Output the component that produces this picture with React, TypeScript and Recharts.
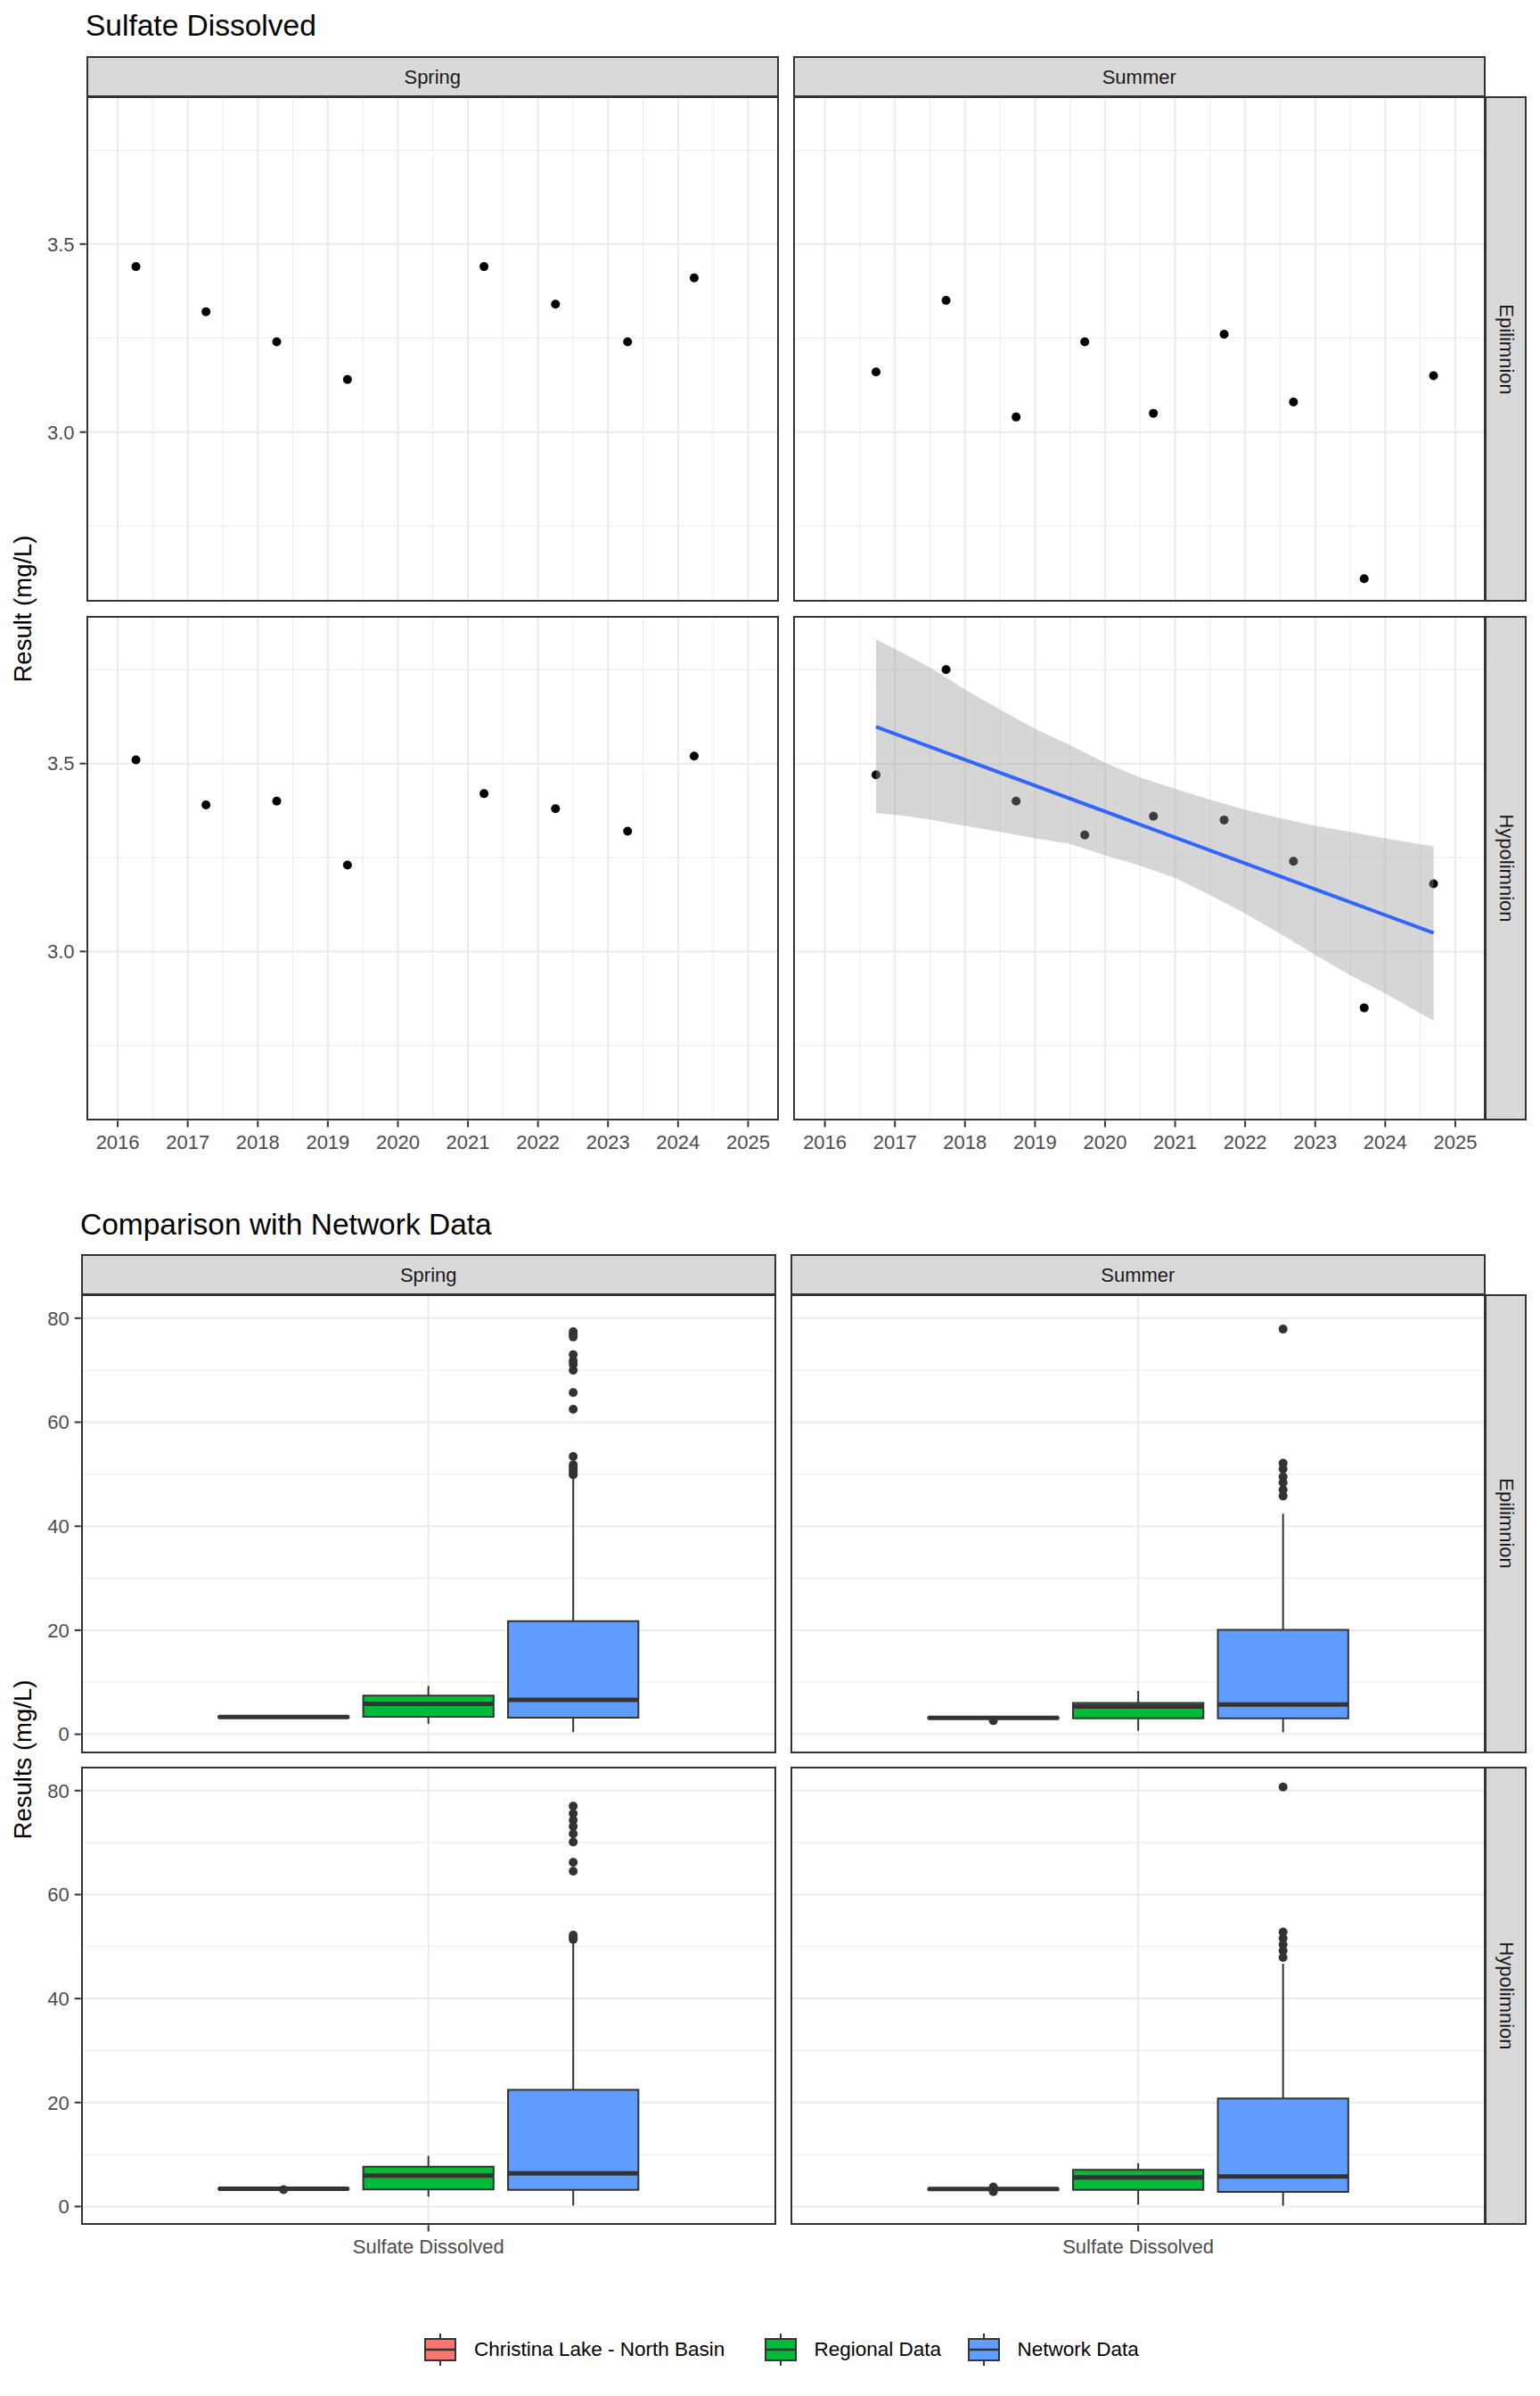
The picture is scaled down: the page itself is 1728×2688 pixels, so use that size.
import React from 'react';
import {
  ComposedChart, Scatter, Line, Area, XAxis, YAxis, CartesianGrid,
  ReferenceArea, ReferenceLine,
} from 'recharts';

const FONT = '"Liberation Sans", Arial, Helvetica, sans-serif';
const INK = '#333333';
const GRID = '#EBEBEB';
const TICK = { fontSize: 22, fill: '#4D4D4D', fontFamily: FONT };

// ---------- top block: Sulfate Dissolved over time ----------
const SEASONS = ['Spring', 'Summer'];
const LAYERS = ['Epilimnion', 'Hypolimnion'];
const YEAR_TICKS = [2016, 2017, 2018, 2019, 2020, 2021, 2022, 2023, 2024, 2025];
const YEAR_MINOR = [2016.5, 2017.5, 2018.5, 2019.5, 2020.5, 2021.5, 2022.5, 2023.5, 2024.5];
const RESULT_TICKS = [3.0, 3.5];
const RESULT_MINOR = [2.75, 3.25, 3.75];

const springYears = [2016.26, 2017.26, 2018.27, 2019.28, 2021.23, 2022.25, 2023.28, 2024.23];
const springEpi = [3.44, 3.32, 3.24, 3.14, 3.44, 3.34, 3.24, 3.41];
const springHypo = [3.51, 3.39, 3.40, 3.23, 3.42, 3.38, 3.32, 3.52];

const summerYears = [2016.73, 2017.73, 2018.73, 2019.71, 2020.69, 2021.70, 2022.69, 2023.70, 2024.69];
const summerEpi = [3.16, 3.35, 3.04, 3.24, 3.05, 3.26, 3.08, 2.61, 3.15];
const summerHypo = [3.47, 3.75, 3.40, 3.31, 3.36, 3.35, 3.24, 2.85, 3.18];

// lm fit + confidence band (summer hypolimnion)
const trendYears = [2016.73, 2024.69];
const trendFit = [3.598, 3.049];
const bandYears = [2016.73, 2017, 2017.5, 2018, 2018.5, 2019, 2019.5, 2020, 2020.5, 2021, 2021.5, 2022, 2022.5, 2023, 2023.5, 2024, 2024.69];
const bandHigh = [3.831, 3.805, 3.756, 3.697, 3.644, 3.592, 3.549, 3.502, 3.463, 3.433, 3.404, 3.377, 3.355, 3.334, 3.318, 3.301, 3.280];
const bandLow = [3.368, 3.364, 3.351, 3.334, 3.318, 3.301, 3.286, 3.256, 3.228, 3.196, 3.150, 3.101, 3.047, 2.991, 2.937, 2.888, 2.816];

// ---------- bottom block: comparison boxplots ----------
const PARAMS = ['Sulfate Dissolved'];
const PARAM_POS = [1];
const GROUPS = ['Christina Lake - North Basin', 'Regional Data', 'Network Data'];
const GROUP_FILLS = ['#F8766D', '#00BA38', '#619CFF'];
const GROUP_POS = [0.75, 1, 1.25];
const COMP_TICKS = [0, 20, 40, 60, 80];
const COMP_MINOR = [10, 30, 50, 70];

// [lower whisker, Q1, median, Q3, upper whisker]
const springEpiChristina = [3.14, 3.24, 3.33, 3.42, 3.44];
const springEpiRegional = [2.0, 3.34, 5.86, 7.43, 9.28];
const springEpiNetwork = [0.4, 3.19, 6.61, 21.76, 49.4];
const springEpiOutliers = [[], [], [77.4, 76.9, 76.4, 73.0, 71.8, 71.1, 70.0, 65.7, 62.5, 53.4, 51.8, 51.3, 50.8, 50.3, 49.9]];

const summerEpiChristina = [3.04, 3.05, 3.15, 3.24, 3.35];
const summerEpiRegional = [0.67, 3.05, 5.35, 6.01, 8.32];
const summerEpiNetwork = [0.38, 3.05, 5.72, 20.06, 42.4];
const summerEpiOutliers = [[2.61], [], [77.9, 52.1, 51.0, 49.5, 48.4, 47.0, 45.8]];

const springHypoChristina = [3.32, 3.365, 3.395, 3.44, 3.52];
const springHypoRegional = [1.89, 3.30, 5.94, 7.66, 9.74];
const springHypoNetwork = [0.17, 3.18, 6.37, 22.45, 50.8];
const springHypoOutliers = [[3.23], [], [77.0, 75.6, 74.3, 73.1, 71.7, 70.1, 66.2, 64.5, 52.2, 51.8, 51.4]];

const summerHypoChristina = [3.18, 3.24, 3.35, 3.40, 3.47];
const summerHypoRegional = [0.36, 3.18, 5.58, 7.04, 8.33];
const summerHypoNetwork = [0.17, 2.82, 5.76, 20.79, 46.7];
const summerHypoOutliers = [[3.75, 2.85], [], [80.7, 52.8, 51.6, 50.4, 49.2, 47.9]];

// ---------- layout (pixels) ----------
const TOP_COLS = [{ left: 96.5, width: 777.5 }, { left: 889.5, width: 777.5 }];
const TOP_ROWS = [{ top: 108, height: 567 }, { top: 690.5, height: 566.5 }];
const BOT_COLS = [{ left: 90.7, width: 780 }, { left: 886.7, width: 780.3 }];
const BOT_ROWS = [{ top: 1452, height: 514.6 }, { top: 1982, height: 514.4 }];
const STRIP_H = 45.5;
const RSTRIP_W = 46;
const X_AXIS_H = 50;
const LEGEND_KEY_X = [476, 857.5, 1085.5];

const dot = (p: any) => <circle cx={p.cx} cy={p.cy} r={5} fill="#000000" />;
const outlierDot = (p: any) => <circle cx={p.cx} cy={p.cy} r={5} fill={INK} />;

function Strip({ left, top, width, height, label, vertical }: any) {
  return (
    <div style={{
      position: 'absolute', left, top, width, height, boxSizing: 'border-box',
      background: '#D9D9D9', border: `2px solid ${INK}`, display: 'flex',
      alignItems: 'center', justifyContent: 'center', fontFamily: FONT,
      fontSize: 22, color: '#1A1A1A', overflow: 'visible',
    }}>
      <span style={{ whiteSpace: 'nowrap', transform: vertical ? 'rotate(90deg)' : 'translateY(1px)' }}>{label}</span>
    </div>
  );
}

function Border({ left, top, width, height }: any) {
  return (
    <div style={{
      position: 'absolute', left, top, width, height, boxSizing: 'border-box',
      border: `2px solid ${INK}`, pointerEvents: 'none',
    }} />
  );
}

function TrendPanel({ left, top, width, height, showY, showX, years, values, smooth }: any) {
  const yW = showY ? left : 0;
  const xH = showX ? X_AXIS_H : 0;
  const points = years.map((x: number, i: number) => ({ x, y: values[i] }));
  const band = bandYears.map((x, i) => ({ x, range: [bandLow[i], bandHigh[i]] }));
  const trend = trendYears.map((x, i) => ({ x, y: trendFit[i] }));
  return (
    <div style={{ position: 'absolute', left: left - yW, top }}>
      <ComposedChart width={yW + width} height={height + xH} margin={{ top: 0, right: 0, bottom: 0, left: 0 }}>
        <CartesianGrid horizontalValues={RESULT_MINOR} verticalValues={YEAR_MINOR} stroke={GRID} strokeWidth={1} />
        <CartesianGrid horizontalValues={RESULT_TICKS} verticalValues={YEAR_TICKS} stroke={GRID} strokeWidth={2} />
        <XAxis
          type="number" dataKey="x" domain={[2015.547, 2025.44]} allowDataOverflow
          ticks={YEAR_TICKS} interval={0} hide={!showX} height={xH || 1}
          tick={TICK} tickSize={7} tickMargin={9}
          tickLine={{ stroke: INK, strokeWidth: 2 }} axisLine={false}
        />
        <YAxis
          type="number" dataKey="y" domain={[2.549, 3.893]} allowDataOverflow
          ticks={RESULT_TICKS} interval={0} hide={!showY} width={yW || 1}
          tick={TICK} tickFormatter={(v: number) => v.toFixed(1)} tickSize={7} tickMargin={6}
          tickLine={{ stroke: INK, strokeWidth: 2 }} axisLine={false}
        />
        <Scatter data={points} shape={dot} isAnimationActive={false} zIndex={500} />
        {smooth && (
          <Area
            data={band} dataKey="range" type="linear" stroke="none" fill="#999999"
            fillOpacity={0.4} isAnimationActive={false} zIndex={600} activeDot={false}
          />
        )}
        {smooth && (
          <Line
            data={trend} dataKey="y" type="linear" stroke="#3366FF" strokeWidth={4}
            dot={false} activeDot={false} isAnimationActive={false} zIndex={700}
          />
        )}
      </ComposedChart>
    </div>
  );
}

function BoxPanel({ left, top, width, height, showY, showX, stats, outliers }: any) {
  const yW = showY ? left : 0;
  const xH = showX ? X_AXIS_H : 0;
  const half = 0.1125;
  const pts = outliers.flatMap((vals: number[], g: number) => vals.map((y) => ({ x: GROUP_POS[g], y })));
  const marks: any[] = [];
  stats.forEach((s: number[], g: number) => {
    const cx = GROUP_POS[g];
    marks.push(
      <ReferenceLine key={`wl${g}`} segment={[{ x: cx, y: s[0] }, { x: cx, y: s[1] }]} stroke={INK} strokeWidth={2} ifOverflow="visible" />,
      <ReferenceLine key={`wh${g}`} segment={[{ x: cx, y: s[3] }, { x: cx, y: s[4] }]} stroke={INK} strokeWidth={2} ifOverflow="visible" />,
      <ReferenceArea key={`bx${g}`} x1={cx - half} x2={cx + half} y1={s[1]} y2={s[3]} fill={GROUP_FILLS[g]} fillOpacity={1} stroke={INK} strokeWidth={2} ifOverflow="visible" />,
      <ReferenceLine key={`md${g}`} segment={[{ x: cx - half, y: s[2] }, { x: cx + half, y: s[2] }]} stroke={INK} strokeWidth={5} ifOverflow="visible" />,
    );
  });
  return (
    <div style={{ position: 'absolute', left: left - yW, top }}>
      <ComposedChart width={yW + width} height={height + xH} margin={{ top: 0, right: 0, bottom: 0, left: 0 }}>
        <CartesianGrid horizontalValues={COMP_MINOR} vertical={false} stroke={GRID} strokeWidth={1} />
        <CartesianGrid horizontalValues={COMP_TICKS} verticalValues={PARAM_POS} stroke={GRID} strokeWidth={2} />
        <XAxis
          type="number" dataKey="x" domain={[0.4, 1.6]} allowDataOverflow
          ticks={PARAM_POS} interval={0} hide={!showX} height={xH || 1}
          tickFormatter={(v: number) => PARAMS[PARAM_POS.indexOf(v)]}
          tick={TICK} tickSize={7} tickMargin={9}
          tickLine={{ stroke: INK, strokeWidth: 2 }} axisLine={false}
        />
        <YAxis
          type="number" dataKey="y" domain={[-3.6, 84.6]} allowDataOverflow
          ticks={COMP_TICKS} interval={0} hide={!showY} width={yW || 1}
          tick={TICK} tickSize={7} tickMargin={6}
          tickLine={{ stroke: INK, strokeWidth: 2 }} axisLine={false}
        />
        {marks}
        <Scatter data={pts} shape={outlierDot} isAnimationActive={false} />
      </ComposedChart>
    </div>
  );
}

function LegendKey({ fill }: any) {
  return (
    <svg width={36} height={36} style={{ display: 'block' }}>
      <line x1={18} y1={0} x2={18} y2={6} stroke={INK} strokeWidth={2} />
      <line x1={18} y1={30} x2={18} y2={36} stroke={INK} strokeWidth={2} />
      <rect x={1} y={6} width={34} height={24} fill={fill} stroke={INK} strokeWidth={2} />
      <line x1={1} y1={18} x2={35} y2={18} stroke={INK} strokeWidth={2.5} />
    </svg>
  );
}

export default function App() {
  const trendFacets = [
    { c: 0, r: 0, years: springYears, values: springEpi },
    { c: 0, r: 1, years: springYears, values: springHypo },
    { c: 1, r: 0, years: summerYears, values: summerEpi },
    { c: 1, r: 1, years: summerYears, values: summerHypo, smooth: true },
  ];
  const boxFacets = [
    { c: 0, r: 0, stats: [springEpiChristina, springEpiRegional, springEpiNetwork], outliers: springEpiOutliers },
    { c: 0, r: 1, stats: [springHypoChristina, springHypoRegional, springHypoNetwork], outliers: springHypoOutliers },
    { c: 1, r: 0, stats: [summerEpiChristina, summerEpiRegional, summerEpiNetwork], outliers: summerEpiOutliers },
    { c: 1, r: 1, stats: [summerHypoChristina, summerHypoRegional, summerHypoNetwork], outliers: summerHypoOutliers },
  ];
  const topRight = TOP_COLS[1].left + TOP_COLS[1].width;
  const botRight = BOT_COLS[1].left + BOT_COLS[1].width;

  return (
    <div style={{ position: 'absolute', left: 0, top: 0, width: 1728, height: 2688, background: '#FFFFFF', fontFamily: FONT, overflow: 'hidden' }}>
      {/* ---- top block ---- */}
      <div style={{ position: 'absolute', left: 96, top: 10, fontSize: 33.5, color: '#000', whiteSpace: 'nowrap' }}>Sulfate Dissolved</div>
      {trendFacets.map((f) => (
        <TrendPanel
          key={`t${f.c}${f.r}`}
          left={TOP_COLS[f.c].left} width={TOP_COLS[f.c].width}
          top={TOP_ROWS[f.r].top} height={TOP_ROWS[f.r].height}
          showY={f.c === 0} showX={f.r === 1}
          years={f.years} values={f.values} smooth={f.smooth}
        />
      ))}
      {SEASONS.map((s, c) => (
        <Strip key={`ts${c}`} left={TOP_COLS[c].left} top={TOP_ROWS[0].top - STRIP_H} width={TOP_COLS[c].width} height={STRIP_H + 1} label={s} />
      ))}
      {LAYERS.map((l, r) => (
        <Strip key={`tl${r}`} left={topRight - 1} top={TOP_ROWS[r].top} width={RSTRIP_W + 1} height={TOP_ROWS[r].height} label={l} vertical />
      ))}
      {trendFacets.map((f) => (
        <Border key={`tb${f.c}${f.r}`} left={TOP_COLS[f.c].left} top={TOP_ROWS[f.r].top} width={TOP_COLS[f.c].width} height={TOP_ROWS[f.r].height} />
      ))}
      <div style={{ position: 'absolute', left: 26, top: (TOP_ROWS[0].top + TOP_ROWS[1].top + TOP_ROWS[1].height) / 2, transform: 'translate(-50%, -50%) rotate(-90deg)', fontSize: 27.5, color: '#000', whiteSpace: 'nowrap' }}>Result (mg/L)</div>

      {/* ---- bottom block ---- */}
      <div style={{ position: 'absolute', left: 90, top: 1355, fontSize: 33.5, color: '#000', whiteSpace: 'nowrap' }}>Comparison with Network Data</div>
      {boxFacets.map((f) => (
        <BoxPanel
          key={`b${f.c}${f.r}`}
          left={BOT_COLS[f.c].left} width={BOT_COLS[f.c].width}
          top={BOT_ROWS[f.r].top} height={BOT_ROWS[f.r].height}
          showY={f.c === 0} showX={f.r === 1}
          stats={f.stats} outliers={f.outliers}
        />
      ))}
      {SEASONS.map((s, c) => (
        <Strip key={`bs${c}`} left={BOT_COLS[c].left} top={BOT_ROWS[0].top - STRIP_H} width={BOT_COLS[c].width} height={STRIP_H + 1} label={s} />
      ))}
      {LAYERS.map((l, r) => (
        <Strip key={`bl${r}`} left={botRight - 1} top={BOT_ROWS[r].top} width={RSTRIP_W + 1} height={BOT_ROWS[r].height} label={l} vertical />
      ))}
      {boxFacets.map((f) => (
        <Border key={`bb${f.c}${f.r}`} left={BOT_COLS[f.c].left} top={BOT_ROWS[f.r].top} width={BOT_COLS[f.c].width} height={BOT_ROWS[f.r].height} />
      ))}
      <div style={{ position: 'absolute', left: 26, top: (BOT_ROWS[0].top + BOT_ROWS[1].top + BOT_ROWS[1].height) / 2, transform: 'translate(-50%, -50%) rotate(-90deg)', fontSize: 27.5, color: '#000', whiteSpace: 'nowrap' }}>Results (mg/L)</div>

      {/* ---- legend ---- */}
      {GROUPS.map((g, i) => (
        <div key={g} style={{ position: 'absolute', left: LEGEND_KEY_X[i], top: 2618, height: 36, display: 'flex', alignItems: 'center' }}>
          <LegendKey fill={GROUP_FILLS[i]} />
          <span style={{ marginLeft: 20, fontSize: 22.5, color: '#000', whiteSpace: 'nowrap' }}>{g}</span>
        </div>
      ))}
    </div>
  );
}
